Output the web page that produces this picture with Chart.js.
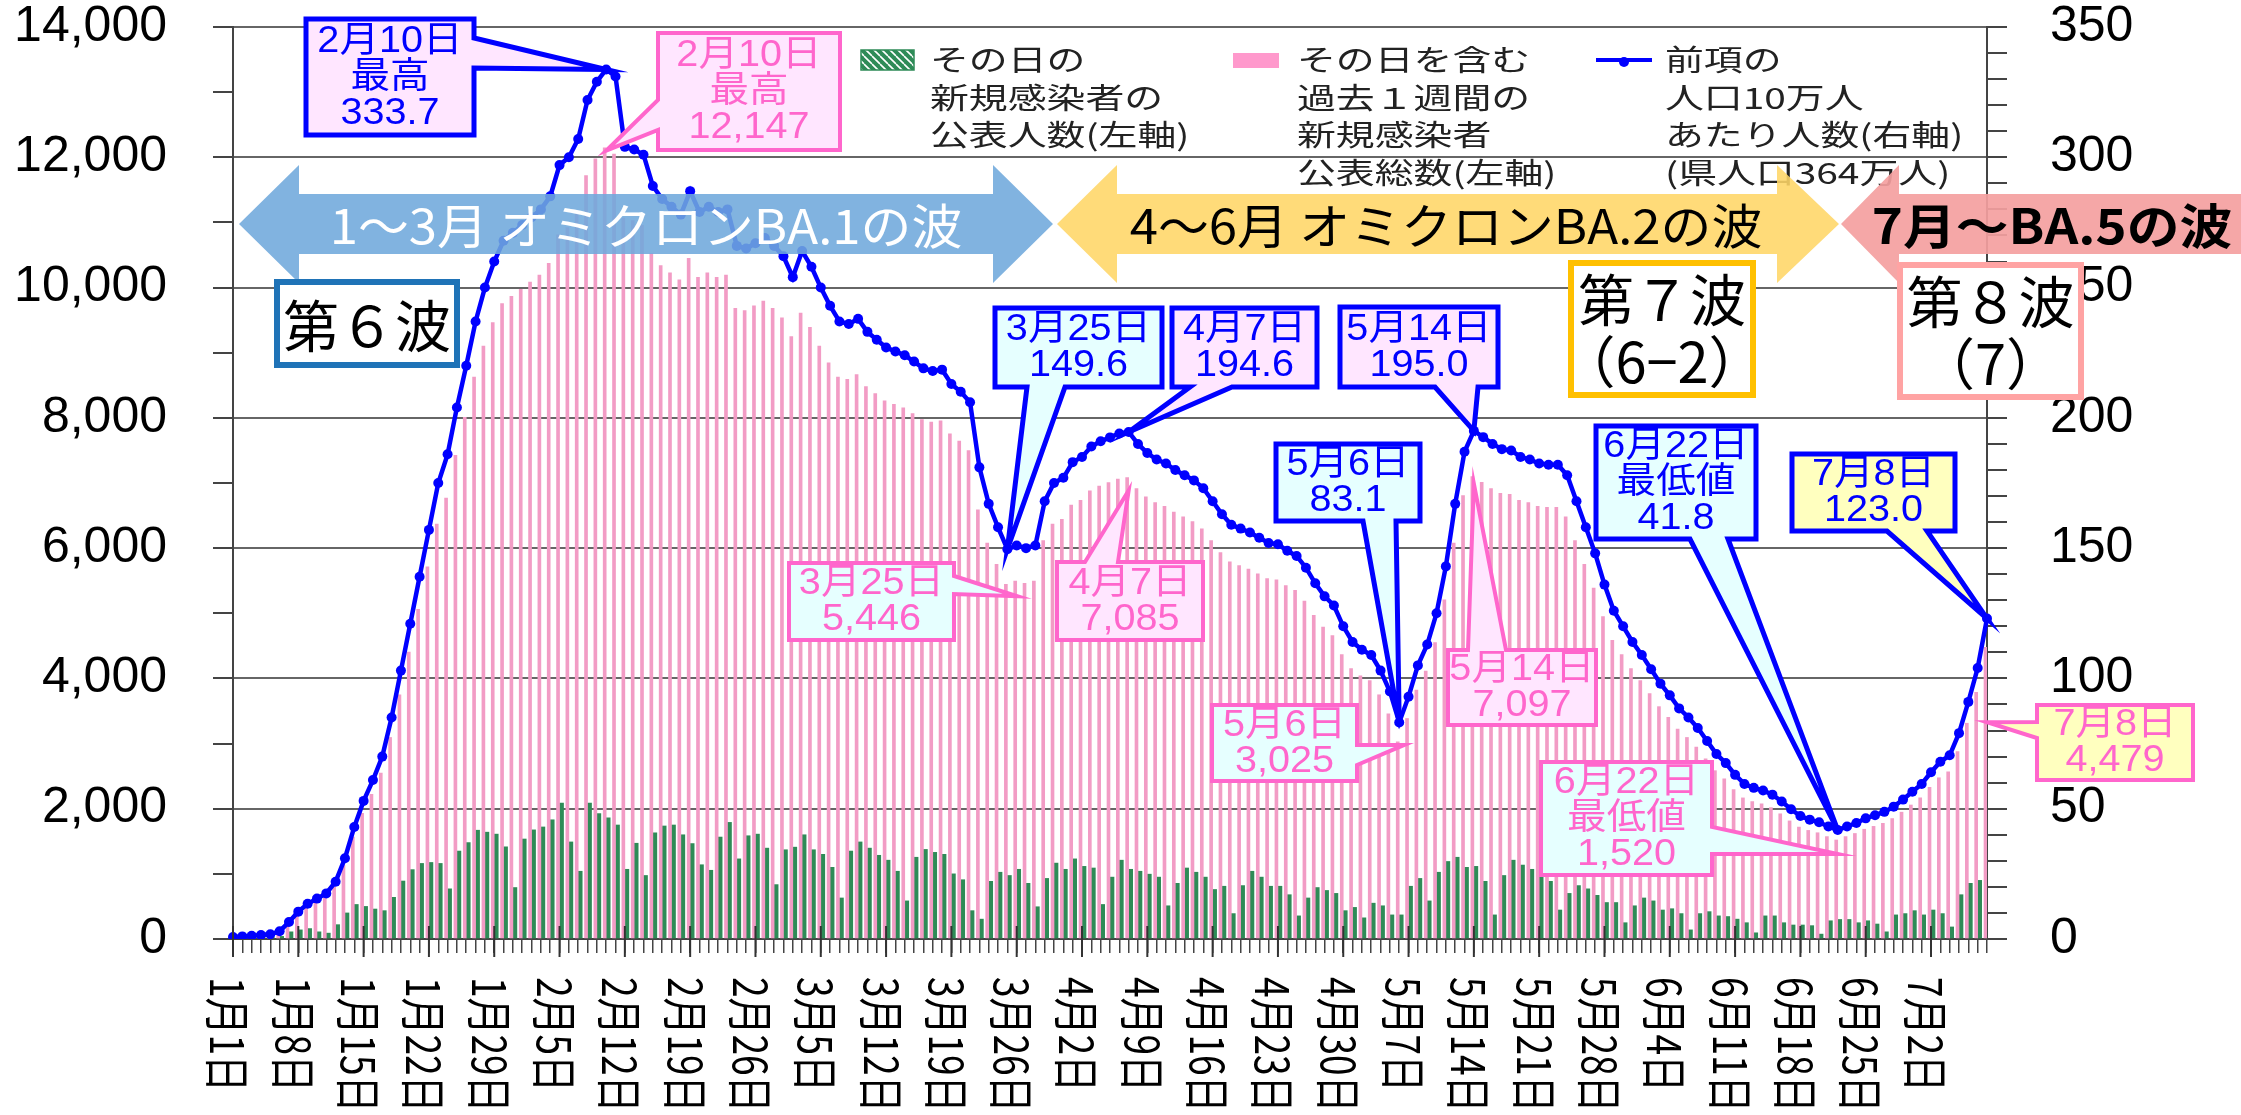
<!DOCTYPE html>
<html>
<head>
<meta charset="utf-8">
<script src="https://cdn.jsdelivr.net/npm/chart.js@4.4.1/dist/chart.umd.min.js"></script>
<style>
  html, body { margin: 0; padding: 0; background: #fff; }
  canvas { display: block; }
</style>
</head>
<body>
<canvas id="c" width="2241" height="1115"></canvas>
<script>
// --- data (Jan 1 .. Jul 8) ---
const monthLengths = [31, 28, 31, 30, 31, 30, 8];

// daily new cases (left axis)
const dailyNew = [
  10, 15, 10, 20, 25, 40, 110, 140, 160, 110,
  90, 220, 400, 530, 500, 460, 435, 640, 890, 1065,
  1160, 1175, 1160, 770, 1350, 1480, 1670, 1640, 1610, 1415,
  790, 1535, 1675, 1720, 1830, 2085, 1490, 1040, 2085, 1925,
  1860, 1750, 1070, 1470, 975, 1630, 1735, 1750, 1600, 1465,
  1140, 1055, 1565, 1790, 1230, 1585, 1610, 1395, 835, 1370,
  1410, 1600, 1370, 1300, 1100, 630, 1350, 1490, 1395, 1285,
  1210, 1040, 585, 1255, 1375, 1330, 1300, 1000, 910, 435,
  305, 885, 1025, 975, 1070, 855, 495, 930, 1165, 1070,
  1230, 1115, 1090, 530, 950, 1210, 1070, 1040, 995, 950,
  510, 855, 1090, 1025, 950, 760, 810, 390, 820, 1040,
  950, 810, 810, 680, 355, 630, 790, 745, 700, 435,
  485, 325, 550, 510, 370, 370, 810, 930, 585, 1025,
  1190, 1255, 1100, 1115, 885, 370, 975, 1210, 1135, 1070,
  1050, 885, 445, 700, 820, 770, 670, 560, 560, 250,
  510, 630, 585, 445, 465, 390, 140, 390, 420, 355,
  345, 305, 250, 95, 355, 355, 250, 215, 215, 205,
  75, 280, 300, 300, 250, 280, 230, 110, 370, 390,
  435, 370, 445, 390, 185, 680, 855, 900, 1050
];

// 7-day totals including that day (left axis)
const weeklyTotal = [
  29, 36, 44, 55, 66, 109, 237, 382, 491, 564,
  637, 801, 1128, 1565, 1929, 2220, 2548, 3094, 3749, 4404,
  5060, 5715, 6370, 6770, 7426, 8008, 8627, 9100, 9464, 9755,
  9864, 9974, 10083, 10192, 10374, 10811, 10920, 11175, 11721, 11976,
  12147, 12048, 11066, 11029, 10956, 10520, 10338, 10228, 10119, 10447,
  10156, 10228, 10156, 10192, 9682, 9646, 9719, 9792, 9682, 9537,
  9246, 9610, 9391, 9100, 8845, 8627, 8590, 8663, 8481, 8372,
  8263, 8208, 8154, 8066, 7972, 7935, 7953, 7753, 7644, 7498,
  6588, 6079, 5751, 5446, 5496, 5460, 5496, 6115, 6370, 6443,
  6661, 6734, 6880, 6952, 7007, 7062, 7085, 6916, 6789, 6698,
  6643, 6552, 6479, 6406, 6297, 6115, 5933, 5788, 5733, 5678,
  5606, 5533, 5515, 5424, 5351, 5187, 4969, 4787, 4659, 4368,
  4150, 4040, 3968, 3749, 3458, 3025, 3385, 3822, 4113, 4550,
  5205, 6079, 6807, 7097, 7011, 6916, 6843, 6825, 6734, 6698,
  6643, 6625, 6625, 6479, 6115, 5751, 5387, 4950, 4586, 4368,
  4150, 3968, 3767, 3567, 3403, 3221, 3094, 2948, 2766, 2584,
  2457, 2293, 2166, 2111, 2075, 2017, 1922, 1813, 1718, 1667,
  1631, 1572, 1520, 1572, 1620, 1685, 1729, 1776, 1849, 1947,
  2057, 2166, 2330, 2475, 2566, 2876, 3312, 3786, 4479
];

// per 100k population (right axis)
const per100k = [
  0.8, 1.0, 1.2, 1.5, 1.8, 3.0, 6.5, 10.5, 13.5, 15.5,
  17.5, 22.0, 31.0, 43.0, 53.0, 61.0, 70.0, 85.0, 103.0, 121.0,
  139.0, 157.0, 175.0, 186.0, 204.0, 220.0, 237.0, 250.0, 260.0, 268.0,
  271.0, 274.0, 277.0, 280.0, 285.0, 297.0, 300.0, 307.0, 322.0, 329.0,
  333.7, 331.0, 304.0, 303.0, 301.0, 289.0, 284.0, 281.0, 278.0, 287.0,
  279.0, 281.0, 279.0, 280.0, 266.0, 265.0, 267.0, 269.0, 266.0, 262.0,
  254.0, 264.0, 258.0, 250.0, 243.0, 237.0, 236.0, 238.0, 233.0, 230.0,
  227.0, 225.5, 224.0, 221.6, 219.0, 218.0, 218.5, 213.0, 210.0, 206.0,
  181.0, 167.0, 158.0, 149.6, 151.0, 150.0, 151.0, 168.0, 175.0, 177.0,
  183.0, 185.0, 189.0, 191.0, 192.5, 194.0, 194.6, 190.0, 186.5, 184.0,
  182.5, 180.0, 178.0, 176.0, 173.0, 168.0, 163.0, 159.0, 157.5, 156.0,
  154.0, 152.0, 151.5, 149.0, 147.0, 142.5, 136.5, 131.5, 128.0, 120.0,
  114.0, 111.0, 109.0, 103.0, 95.0, 83.1, 93.0, 105.0, 113.0, 125.0,
  143.0, 167.0, 187.0, 195.0, 192.6, 190.0, 188.0, 187.5, 185.0, 184.0,
  182.5, 182.0, 182.0, 178.0, 168.0, 158.0, 148.0, 136.0, 126.0, 120.0,
  114.0, 109.0, 103.5, 98.0, 93.5, 88.5, 85.0, 81.0, 76.0, 71.0,
  67.5, 63.0, 59.5, 58.0, 57.0, 55.4, 52.8, 49.8, 47.2, 45.8,
  44.8, 43.2, 41.8, 43.2, 44.5, 46.3, 47.5, 48.8, 50.8, 53.5,
  56.5, 59.5, 64.0, 68.0, 70.5, 79.0, 91.0, 104.0, 123.0
];

// weekly tick labels (every 7th day from Jan 1)
const tickLabels = ['1月1日', '1月8日', '1月15日', '1月22日', '1月29日', '2月5日', '2月12日',
  '2月19日', '2月26日', '3月5日', '3月12日', '3月19日', '3月26日', '4月2日', '4月9日',
  '4月16日', '4月23日', '4月30日', '5月7日', '5月14日', '5月21日', '5月28日', '6月4日',
  '6月11日', '6月18日', '6月25日', '7月2日'];

const days = [];
monthLengths.forEach((n, m) => {
  for (let d = 1; d <= n; d++) days.push(`${m + 1}月${d}日`);
});

// --- styling helpers ---
const JP = '"Noto Sans CJK JP", "Noto Sans", sans-serif';
const NUM = '"Liberation Sans", Arial, sans-serif';
const MIX = `"Liberation Sans", ${JP}`;
const BLUE = '#0000FF';
const PINK = '#FF66CC';
const FILL_PINK = '#FFE6FF';
const FILL_CYAN = '#E6FFFF';
const FILL_YELLOW = '#FFFFBF';

function fmt(v) {
  return String(v).replace(/\B(?=(\d{3})+(?!\d))/g, ',');
}

function drawText(ctx, text, x, y, font, color, sx, align) {
  ctx.save();
  ctx.font = font;
  ctx.fillStyle = color;
  ctx.textAlign = align || 'center';
  ctx.textBaseline = 'middle';
  ctx.translate(x, y);
  ctx.scale(sx || 1, 1);
  ctx.fillText(text, 0, 0);
  ctx.restore();
}

function calloutPath(ctx, b, side, base, tip) {
  const [x, y, w, h] = b;
  ctx.beginPath();
  ctx.moveTo(x, y);
  if (side === 'top') { ctx.lineTo(base[0], y); ctx.lineTo(tip.x, tip.y); ctx.lineTo(base[1], y); }
  ctx.lineTo(x + w, y);
  if (side === 'right') { ctx.lineTo(x + w, base[0]); ctx.lineTo(tip.x, tip.y); ctx.lineTo(x + w, base[1]); }
  ctx.lineTo(x + w, y + h);
  if (side === 'bottom') { ctx.lineTo(base[1], y + h); ctx.lineTo(tip.x, tip.y); ctx.lineTo(base[0], y + h); }
  ctx.lineTo(x, y + h);
  if (side === 'left') { ctx.lineTo(x, base[1]); ctx.lineTo(tip.x, tip.y); ctx.lineTo(x, base[0]); }
  ctx.closePath();
}

// callouts: box [x,y,w,h], pointer side/base, and which data point it marks
const callouts = [
  { box: [306, 19, 168, 116], side: 'right', base: [38, 68], i: 40, set: 'rate', lines: ['2月10日', '最高', '333.7'], tone: BLUE, fill: FILL_PINK },
  { box: [658, 33, 182, 117], side: 'left', base: [100, 130], i: 40, set: 'week', dy: 3, lines: ['2月10日', '最高', '12,147'], tone: PINK, fill: FILL_PINK },
  { box: [995, 308, 167, 79], side: 'bottom', base: [1027, 1065], i: 83, set: 'rate', lines: ['3月25日', '149.6'], tone: BLUE, fill: FILL_CYAN },
  { box: [1172, 308, 145, 79], side: 'bottom', base: [1190, 1232], i: 96, set: 'rate', lines: ['4月7日', '194.6'], tone: BLUE, fill: FILL_PINK },
  { box: [1340, 307, 158, 80], side: 'bottom', base: [1435, 1478], i: 133, set: 'rate', lines: ['5月14日', '195.0'], tone: BLUE, fill: FILL_PINK },
  { box: [1276, 444, 144, 77], side: 'bottom', base: [1363, 1396], i: 125, set: 'rate', lines: ['5月6日', '83.1'], tone: BLUE, fill: FILL_CYAN },
  { box: [1596, 426, 160, 113], side: 'bottom', base: [1690, 1728], i: 172, set: 'rate', lines: ['6月22日', '最低値', '41.8'], tone: BLUE, fill: FILL_CYAN },
  { box: [1792, 454, 163, 77], side: 'bottom', base: [1887, 1927], i: 188, set: 'rate', lines: ['7月8日', '123.0'], tone: BLUE, fill: FILL_YELLOW },
  { box: [789, 563, 165, 77], side: 'right', base: [576, 594], i: 83, set: 'week', dx: 10, dy: 12, lines: ['3月25日', '5,446'], tone: PINK, fill: FILL_CYAN },
  { box: [1057, 562, 146, 78], side: 'top', base: [1085, 1118], i: 96, set: 'week', dy: 13, lines: ['4月7日', '7,085'], tone: PINK, fill: FILL_PINK },
  { box: [1212, 705, 145, 76], side: 'right', base: [745, 765], i: 125, set: 'week', dx: 5, dy: 3, lines: ['5月6日', '3,025'], tone: PINK, fill: FILL_CYAN },
  { box: [1448, 650, 148, 75], side: 'top', base: [1468, 1506], i: 133, set: 'week', dy: 7, lines: ['5月14日', '7,097'], tone: PINK, fill: FILL_PINK },
  { box: [1541, 762, 171, 113], side: 'right', base: [827, 854], i: 172, set: 'week', dy: 14, lines: ['6月22日', '最低値', '1,520'], tone: PINK, fill: FILL_CYAN },
  { box: [2037, 705, 156, 75], side: 'left', base: [722, 738], i: 188, set: 'week', dy: 75, lines: ['7月8日', '4,479'], tone: PINK, fill: FILL_YELLOW }
];

// wave arrows across the top of the plot
const arrows = [
  { x0: 239, x1: 299, x2: 993, x3: 1053, color: 'rgba(111,168,220,0.88)', text: '1〜3月 オミクロンBA.1の波', tx: 646, tcolor: '#fff', bold: false, sx: 1.06 },
  { x0: 1057, x1: 1117, x2: 1777, x3: 1839, color: 'rgba(255,214,102,0.88)', text: '4〜6月 オミクロンBA.2の波', tx: 1446, tcolor: '#000', bold: false, sx: 1.06 },
  { x0: 1841, x1: 1899, x2: 2300, x3: 2300, color: 'rgba(244,160,160,0.92)', text: '7月〜BA.5の波', tx: 2052, tcolor: '#000', bold: true, sx: 1.1 }
];

const waveBoxes = [
  { box: [277, 282, 180, 83], color: '#1F73B7', lines: ['第６波'] },
  { box: [1571, 263, 182, 132], color: '#FFC000', lines: ['第７波', '（6−2）'] },
  { box: [1900, 265, 181, 132], color: '#FFA3A3', lines: ['第８波', '（7）'] }
];

function hatchPattern(ctx) {
  const c = document.createElement('canvas');
  c.width = c.height = 8;
  const g = c.getContext('2d');
  g.fillStyle = '#2E8B57';
  g.fillRect(0, 0, 8, 8);
  g.strokeStyle = '#ffffff';
  g.lineWidth = 1.6;
  g.beginPath();
  for (const k of [-8, 0, 8]) { g.moveTo(k, 0); g.lineTo(k + 8, 8); }
  g.stroke();
  return ctx.createPattern(c, 'repeat');
}

const overlay = {
  id: 'overlay',
  afterDraw(chart) {
    const ctx = chart.ctx;
    const xs = chart.scales.x;
    const yL = chart.scales.y;
    const yR = chart.scales.yR;
    const bottom = chart.chartArea.bottom;

    // legend
    ctx.save();
    ctx.fillStyle = hatchPattern(ctx);
    ctx.fillRect(861, 50, 53, 20);
    ctx.strokeStyle = '#2E8B57';
    ctx.lineWidth = 1.5;
    ctx.strokeRect(861, 50, 53, 20);
    ctx.fillStyle = '#FF99CC';
    ctx.fillRect(1233, 53, 46, 15);
    ctx.strokeStyle = BLUE;
    ctx.lineWidth = 4;
    ctx.beginPath(); ctx.moveTo(1596, 60); ctx.lineTo(1652, 60); ctx.stroke();
    ctx.fillStyle = BLUE;
    ctx.beginPath(); ctx.arc(1624, 62, 5, 0, Math.PI * 2); ctx.fill();
    ctx.restore();
    const lf = `29px ${JP}`;
    [['その日の', '新規感染者の', '公表人数(左軸)'], ['その日を含む', '過去１週間の', '新規感染者', '公表総数(左軸)'],
     ['前項の', '人口10万人', 'あたり人数(右軸)', '(県人口364万人)']].forEach((lines, k) => {
      const x = [930, 1297, 1665][k];
      lines.forEach((t, j) => drawText(ctx, t, x, 60 + j * 37.5, lf, '#222', 1.34, 'left'));
    });

    // arrows
    const yc = 224, hh = 59, sh = 30;
    arrows.forEach(a => {
      ctx.save();
      ctx.fillStyle = a.color;
      ctx.beginPath();
      ctx.moveTo(a.x0, yc);
      ctx.lineTo(a.x1, yc - hh);
      ctx.lineTo(a.x1, yc - sh);
      ctx.lineTo(a.x2, yc - sh);
      ctx.lineTo(a.x2, yc - hh);
      ctx.lineTo(a.x3, yc);
      ctx.lineTo(a.x2, yc + hh);
      ctx.lineTo(a.x2, yc + sh);
      ctx.lineTo(a.x1, yc + sh);
      ctx.lineTo(a.x1, yc + hh);
      ctx.closePath();
      ctx.fill();
      ctx.restore();
      drawText(ctx, a.text, a.tx, yc + 2, `${a.bold ? 'bold ' : ''}48px ${JP}`, a.tcolor, a.sx);
    });

    // wave boxes
    waveBoxes.forEach(w => {
      const [x, y, bw, bh] = w.box;
      ctx.save();
      ctx.fillStyle = '#fff';
      ctx.fillRect(x, y, bw, bh);
      ctx.strokeStyle = w.color;
      ctx.lineWidth = 6;
      ctx.strokeRect(x, y, bw, bh);
      ctx.restore();
      const n = w.lines.length;
      w.lines.forEach((t, j) => {
        const cy = y + bh / 2 + (j - (n - 1) / 2) * 62;
        drawText(ctx, t, x + bw / 2, cy + 2, `56px ${JP}`, '#000', 1);
      });
    });

    // callouts
    callouts.forEach(c => {
      const arr = c.set === 'rate' ? per100k : weeklyTotal;
      const sc = c.set === 'rate' ? yR : yL;
      const tip = {
        x: xs.getPixelForValue(c.i) + (c.dx || 0),
        y: sc.getPixelForValue(arr[c.i]) + (c.dy || 0)
      };
      ctx.save();
      calloutPath(ctx, c.box, c.side, c.base, tip);
      ctx.fillStyle = c.fill;
      ctx.fill();
      ctx.lineJoin = 'miter';
      ctx.lineWidth = c.tone === BLUE ? 5 : 4;
      ctx.strokeStyle = c.tone;
      ctx.stroke();
      ctx.restore();
      const [x, y, w, h] = c.box;
      const n = c.lines.length;
      const top = y + (h - 36 * (n - 1)) / 2;
      c.lines.forEach((t, j) => {
        drawText(ctx, t, x + w / 2, top + j * 36 + 1, `36px ${MIX}`, c.tone, 1.1);
      });
    });

    // weekly date labels (rotated) and long tick marks
    ctx.save();
    ctx.strokeStyle = '#333';
    ctx.lineWidth = 2;
    tickLabels.forEach((lab, k) => {
      const px = xs.getPixelForValue(k * 7);
      ctx.beginPath(); ctx.moveTo(px, bottom - 13); ctx.lineTo(px, bottom + 18); ctx.stroke();
      ctx.save();
      ctx.translate(px - 5, 977);
      ctx.scale(1.25, 1);
      ctx.rotate(Math.PI / 2);
      ctx.font = `37px ${JP}`;
      ctx.fillStyle = '#000';
      ctx.textAlign = 'left';
      ctx.textBaseline = 'middle';
      ctx.fillText(lab, 0, 0);
      ctx.restore();
    });
    ctx.restore();
  }
};

// keep the y axes from padding the plot top by the tick padding
function fixVertical(width) {
  return s => {
    s.width = width;
    s.paddingTop = 25;
    s.paddingBottom = 25;
  };
}

new Chart(document.getElementById('c').getContext('2d'), {
  type: 'bar',
  data: {
    labels: days,
    datasets: [
      {
        type: 'line',
        label: '前項の人口10万人あたり人数(右軸)',
        data: per100k,
        yAxisID: 'yR',
        order: 1,
        borderColor: BLUE,
        backgroundColor: BLUE,
        borderWidth: 4.5,
        pointRadius: 5,
        pointHoverRadius: 5,
        pointBorderWidth: 0,
        tension: 0
      },
      {
        label: 'その日を含む過去1週間の新規感染者公表総数(左軸)',
        data: weeklyTotal,
        yAxisID: 'y',
        order: 2,
        backgroundColor: '#F29CC5',
        barThickness: 3
      },
      {
        label: 'その日の新規感染者の公表人数(左軸)',
        data: dailyNew,
        yAxisID: 'y',
        order: 3,
        backgroundColor: '#2E8B57',
        barThickness: 4
      }
    ]
  },
  options: {
    responsive: false,
    animation: false,
    devicePixelRatio: 1,
    layout: { padding: { top: 27, left: 0, right: 0, bottom: 0 } },
    plugins: { legend: { display: false }, tooltip: { enabled: false } },
    scales: {
      x: {
        offset: false,
        grid: { display: true, offset: false, drawOnChartArea: false, drawTicks: true, tickLength: 14, color: '#444', lineWidth: 1.5 },
        border: { display: true, color: '#444', width: 2 },
        ticks: { display: false, autoSkip: false },
        afterFit(s) { s.height = 176; }
      },
      y: {
        position: 'left',
        min: 0,
        max: 14000,
        ticks: {
          stepSize: 1000,
          autoSkip: false,
          padding: 46,
          color: '#000',
          font: { family: NUM, size: 50, lineHeight: 1 },
          callback: v => (Math.round(v) % 2000 === 0 ? fmt(Math.round(v)) : '')
        },
        grid: {
          color: c => (c.tick && Math.round(c.tick.value) % 2000 === 0 ? '#666' : 'rgba(0,0,0,0)'),
          tickColor: '#444',
          lineWidth: 2,
          tickLength: 20
        },
        border: { color: '#444', width: 2 },
        afterFit: fixVertical(233)
      },
      yR: {
        position: 'right',
        min: 0,
        max: 350,
        ticks: {
          stepSize: 10,
          autoSkip: false,
          padding: 43,
          color: '#000',
          font: { family: NUM, size: 50, lineHeight: 1 },
          callback: v => (Math.round(v) % 50 === 0 ? String(Math.round(v)) : '')
        },
        grid: { drawOnChartArea: false, tickLength: 20, color: '#444', lineWidth: 2 },
        border: { color: '#444', width: 2 },
        afterFit: fixVertical(254)
      }
    }
  },
  plugins: [overlay]
});
</script>
</body>
</html>
